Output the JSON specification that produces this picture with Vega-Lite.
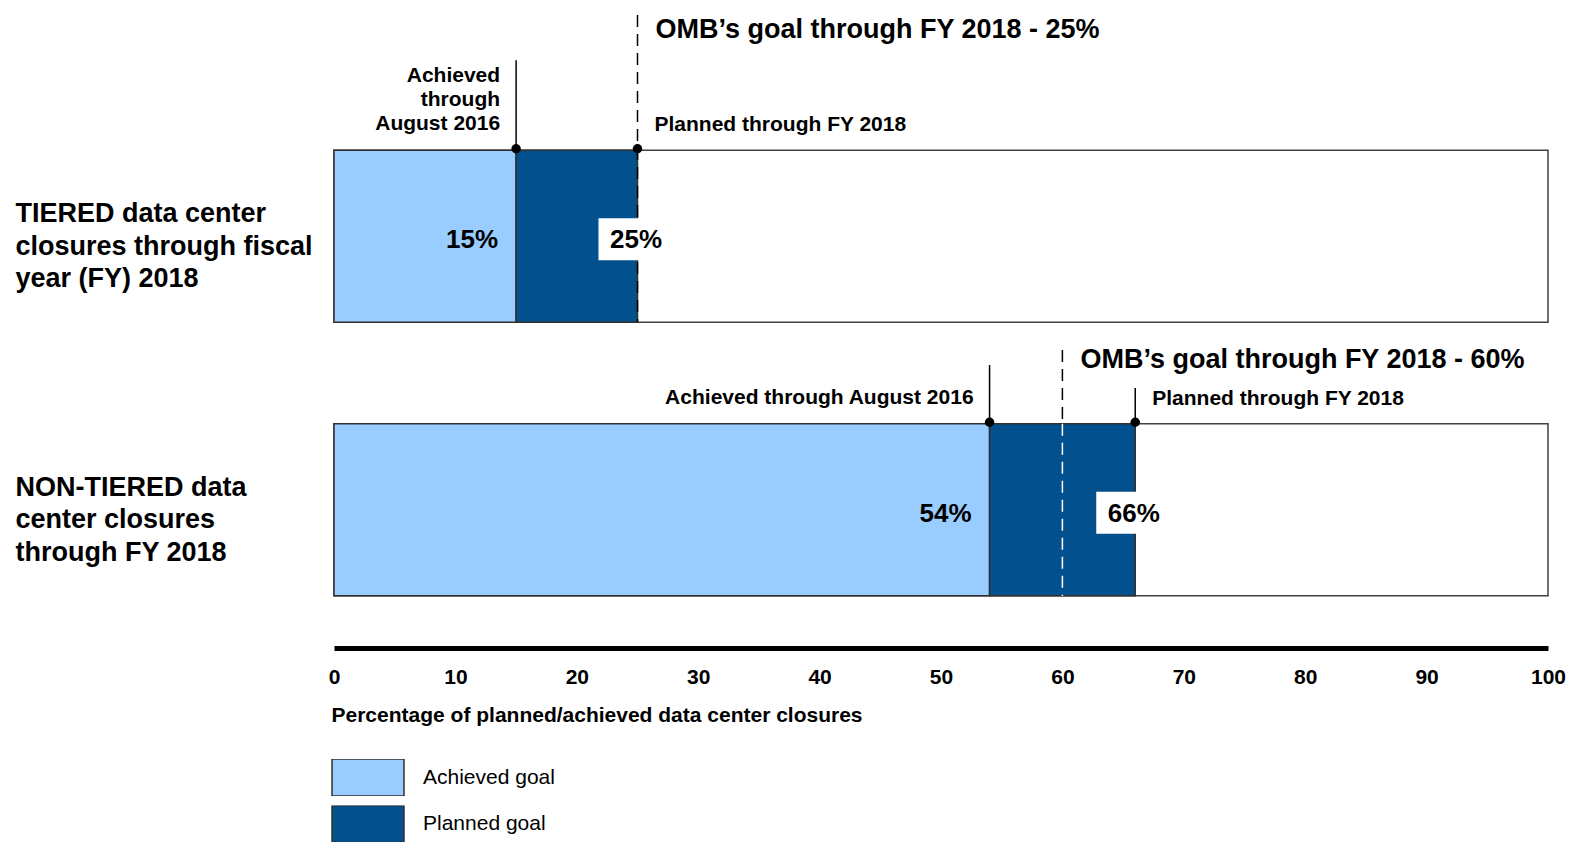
{
  "$schema": "https://vega.github.io/schema/vega-lite/v6.json",
  "autosize": {"type": "none"},
  "padding": {"left": 334, "top": 98, "right": 22, "bottom": 194},
  "width": 1214,
  "height": 550,
  "background": "white",
  "config": {
    "font": "Liberation Sans",
    "view": {"stroke": null}
  },
  "data": {
    "values": [
      {"id": "T", "row": "TIERED data center\nclosures through fiscal\nyear (FY) 2018", "achieved": 15, "planned": 25, "goal": 25, "total": 100, "achievedLabel": "15%", "plannedLabel": "25%", "goalNote": "OMB’s goal through FY 2018 - 25%", "achievedNote": "Achieved\nthrough\nAugust 2016", "plannedNote": "Planned through FY 2018"},
      {"id": "N", "row": "NON-TIERED data\ncenter closures\nthrough FY 2018", "achieved": 54, "planned": 66, "goal": 60, "total": 100, "achievedLabel": "54%", "plannedLabel": "66%", "goalNote": "OMB’s goal through FY 2018 - 60%", "achievedNote": "Achieved through August 2016", "plannedNote": "Planned through FY 2018"}
    ]
  },
  "layer": [
    {
      "mark": {"type": "bar", "fill": "white", "stroke": "#404040", "strokeWidth": 1.5},
      "encoding": {
        "y": {
          "field": "row",
          "type": "nominal",
          "sort": null,
          "scale": {
            "domain": ["TIERED data center\nclosures through fiscal\nyear (FY) 2018", "NON-TIERED data\ncenter closures\nthrough FY 2018"],
            "paddingInner": 0.371,
            "paddingOuter": 0.191
          },
          "axis": {
            "orient": "left",
            "title": null,
            "domain": false,
            "ticks": false,
            "tickSize": 0,
            "grid": false,
            "labelAlign": "left",
            "labelBaseline": "middle",
            "labelPadding": 319,
            "labelFont": "Liberation Sans",
            "labelFontSize": 27,
            "labelFontWeight": "bold",
            "labelColor": "black",
            "labelLineHeight": 32.5,
            "labelLimit": 0,
            "labelOffset": -22,
            "labelExpr": "split(datum.label, '\\n')"
          }
        },
        "x": {
          "field": "total",
          "type": "quantitative",
          "scale": {"domain": [0, 100], "nice": false, "zero": true},
          "title": "Percentage of planned/achieved data center closures",
          "axis": {
            "orient": "bottom",
            "values": [0, 10, 20, 30, 40, 50, 60, 70, 80, 90, 100],
            "domainColor": "black",
            "domainWidth": 5,
            "ticks": false,
            "tickSize": 0,
            "grid": false,
            "labelFont": "Liberation Sans",
            "labelFontSize": 21,
            "labelFontWeight": "bold",
            "labelColor": "black",
            "labelPadding": 29,
            "labelBaseline": "middle",
            "labelFlush": false,
            "labelOverlap": false,
            "titleFont": "Liberation Sans",
            "titleFontSize": 21,
            "titleFontWeight": "bold",
            "titleColor": "black",
            "titleAnchor": "start",
            "titleAlign": "left",
            "titleBaseline": "middle",
            "titleX": -3,
            "titleY": 67
          }
        }
      }
    },
    {
      "mark": {"type": "bar", "stroke": "#303030", "strokeWidth": 1.5, "opacity": 1},
      "encoding": {
        "y": {"field": "row", "type": "nominal", "sort": null},
        "x": {"field": "achieved", "type": "quantitative", "title": "Percentage of planned/achieved data center closures"},
        "color": {
          "datum": "Achieved goal",
          "type": "nominal",
          "scale": {"domain": ["Achieved goal", "Planned goal"], "range": ["#99CCFF", "#03508F"]},
          "legend": {
            "title": null,
            "orient": "none",
            "legendX": -3,
            "legendY": 661,
            "direction": "vertical",
            "symbolType": "M-1,-0.514H1V0.514H-1Z",
            "symbolSize": 5184,
            "symbolStrokeColor": "#333333",
            "symbolStrokeWidth": 1.5,
            "symbolOpacity": 1,
            "clipHeight": 37,
            "labelFont": "Liberation Sans",
            "labelFontSize": 21,
            "labelColor": "black",
            "labelOffset": 18,
            "rowPadding": 9.5
          }
        }
      }
    },
    {
      "mark": {"type": "bar", "stroke": "#303030", "strokeWidth": 1.5, "opacity": 1},
      "encoding": {
        "y": {"field": "row", "type": "nominal", "sort": null},
        "x": {"field": "achieved", "type": "quantitative", "title": "Percentage of planned/achieved data center closures"},
        "x2": {"field": "planned"},
        "color": {"datum": "Planned goal", "type": "nominal"}
      }
    },
    {
      "transform": [{"filter": "datum.id == 'T'"}],
      "mark": {"type": "rule", "color": "black", "strokeWidth": 1.5, "strokeDash": [12, 7], "yOffset": -221.2, "y2Offset": 85.8},
      "encoding": {
        "x": {"field": "goal", "type": "quantitative", "title": "Percentage of planned/achieved data center closures"},
        "y": {"field": "row", "type": "nominal", "sort": null},
        "y2": {"field": "row"}
      }
    },
    {
      "transform": [{"filter": "datum.id == 'N'"}],
      "mark": {"type": "rule", "color": "black", "strokeWidth": 1.5, "strokeDash": [12, 7], "yOffset": -159.7, "y2Offset": -86},
      "encoding": {
        "x": {"field": "goal", "type": "quantitative", "title": "Percentage of planned/achieved data center closures"},
        "y": {"field": "row", "type": "nominal", "sort": null},
        "y2": {"field": "row"}
      }
    },
    {
      "transform": [{"filter": "datum.id == 'N'"}],
      "mark": {"type": "rule", "color": "white", "strokeWidth": 1.5, "strokeDash": [12, 7], "yOffset": -86, "y2Offset": 86.3},
      "encoding": {
        "x": {"field": "goal", "type": "quantitative", "title": "Percentage of planned/achieved data center closures"},
        "y": {"field": "row", "type": "nominal", "sort": null},
        "y2": {"field": "row"}
      }
    },
    {
      "transform": [{"filter": "datum.id == 'T'"}],
      "mark": {"type": "tick", "color": "black", "opacity": 1, "thickness": 1.5, "size": 90, "yOffset": -131.1},
      "encoding": {
        "x": {"field": "achieved", "type": "quantitative", "title": "Percentage of planned/achieved data center closures"},
        "y": {"field": "row", "type": "nominal", "sort": null}
      }
    },
    {
      "transform": [{"filter": "datum.id == 'N'"}],
      "mark": {"type": "tick", "color": "black", "opacity": 1, "thickness": 1.5, "size": 58.7, "yOffset": -115.35},
      "encoding": {
        "x": {"field": "achieved", "type": "quantitative", "title": "Percentage of planned/achieved data center closures"},
        "y": {"field": "row", "type": "nominal", "sort": null}
      }
    },
    {
      "transform": [{"filter": "datum.id == 'N'"}],
      "mark": {"type": "tick", "color": "black", "opacity": 1, "thickness": 1.5, "size": 35.7, "yOffset": -103.85},
      "encoding": {
        "x": {"field": "planned", "type": "quantitative", "title": "Percentage of planned/achieved data center closures"},
        "y": {"field": "row", "type": "nominal", "sort": null}
      }
    },
    {
      "mark": {"type": "point", "shape": "circle", "filled": true, "color": "black", "opacity": 1, "size": 90, "yOffset": -87.5},
      "encoding": {
        "y": {"field": "row", "type": "nominal", "sort": null},
        "x": {"field": "achieved", "type": "quantitative", "title": "Percentage of planned/achieved data center closures"}
      }
    },
    {
      "mark": {"type": "point", "shape": "circle", "filled": true, "color": "black", "opacity": 1, "size": 90, "yOffset": -87.5},
      "encoding": {
        "y": {"field": "row", "type": "nominal", "sort": null},
        "x": {"field": "planned", "type": "quantitative", "title": "Percentage of planned/achieved data center closures"}
      }
    },
    {
      "mark": {"type": "point", "shape": "M-1,-0.646H1V0.646H-1Z", "filled": true, "color": "white", "opacity": 1, "size": 4225, "xOffset": -6.5, "yOffset": 3},
      "encoding": {
        "y": {"field": "row", "type": "nominal", "sort": null},
        "x": {"field": "planned", "type": "quantitative", "title": "Percentage of planned/achieved data center closures"}
      }
    },
    {
      "mark": {"type": "text", "align": "right", "baseline": "middle", "dx": -18, "dy": 4, "fontSize": 26, "fontWeight": "bold", "font": "Liberation Sans", "color": "black"},
      "encoding": {
        "y": {"field": "row", "type": "nominal", "sort": null},
        "x": {"field": "achieved", "type": "quantitative", "title": "Percentage of planned/achieved data center closures"},
        "text": {"field": "achievedLabel", "type": "nominal"}
      }
    },
    {
      "mark": {"type": "text", "align": "center", "baseline": "middle", "dx": -1.5, "dy": 4, "fontSize": 26, "fontWeight": "bold", "font": "Liberation Sans", "color": "black"},
      "encoding": {
        "y": {"field": "row", "type": "nominal", "sort": null},
        "x": {"field": "planned", "type": "quantitative", "title": "Percentage of planned/achieved data center closures"},
        "text": {"field": "plannedLabel", "type": "nominal"}
      }
    },
    {
      "transform": [{"filter": "datum.id == 'T'"}],
      "mark": {"type": "text", "align": "left", "baseline": "middle", "dx": 18, "dy": -206, "fontSize": 27, "fontWeight": "bold", "font": "Liberation Sans", "color": "black"},
      "encoding": {
        "y": {"field": "row", "type": "nominal", "sort": null},
        "x": {"field": "goal", "type": "quantitative", "title": "Percentage of planned/achieved data center closures"},
        "text": {"field": "goalNote", "type": "nominal"}
      }
    },
    {
      "transform": [{"filter": "datum.id == 'N'"}],
      "mark": {"type": "text", "align": "left", "baseline": "middle", "dx": 18, "dy": -150, "fontSize": 27, "fontWeight": "bold", "font": "Liberation Sans", "color": "black"},
      "encoding": {
        "y": {"field": "row", "type": "nominal", "sort": null},
        "x": {"field": "goal", "type": "quantitative", "title": "Percentage of planned/achieved data center closures"},
        "text": {"field": "goalNote", "type": "nominal"}
      }
    },
    {
      "mark": {"type": "text", "align": "left", "baseline": "middle", "dx": 17, "dy": -111, "fontSize": 21, "fontWeight": "bold", "font": "Liberation Sans", "color": "black"},
      "encoding": {
        "y": {"field": "row", "type": "nominal", "sort": null},
        "x": {"field": "planned", "type": "quantitative", "title": "Percentage of planned/achieved data center closures"},
        "text": {"field": "plannedNote", "type": "nominal"}
      }
    },
    {
      "transform": [{"filter": "datum.id == 'T'"}],
      "mark": {"type": "text", "align": "right", "baseline": "bottom", "lineBreak": "\n", "lineHeight": 24, "dx": -16, "dy": -150.5, "fontSize": 21, "fontWeight": "bold", "font": "Liberation Sans", "color": "black"},
      "encoding": {
        "y": {"field": "row", "type": "nominal", "sort": null},
        "x": {"field": "achieved", "type": "quantitative", "title": "Percentage of planned/achieved data center closures"},
        "text": {"field": "achievedNote", "type": "nominal"}
      }
    },
    {
      "transform": [{"filter": "datum.id == 'N'"}],
      "mark": {"type": "text", "align": "right", "baseline": "bottom", "lineBreak": "\n", "lineHeight": 24, "dx": -16, "dy": -101.5, "fontSize": 21, "fontWeight": "bold", "font": "Liberation Sans", "color": "black"},
      "encoding": {
        "y": {"field": "row", "type": "nominal", "sort": null},
        "x": {"field": "achieved", "type": "quantitative", "title": "Percentage of planned/achieved data center closures"},
        "text": {"field": "achievedNote", "type": "nominal"}
      }
    }
  ]
}
